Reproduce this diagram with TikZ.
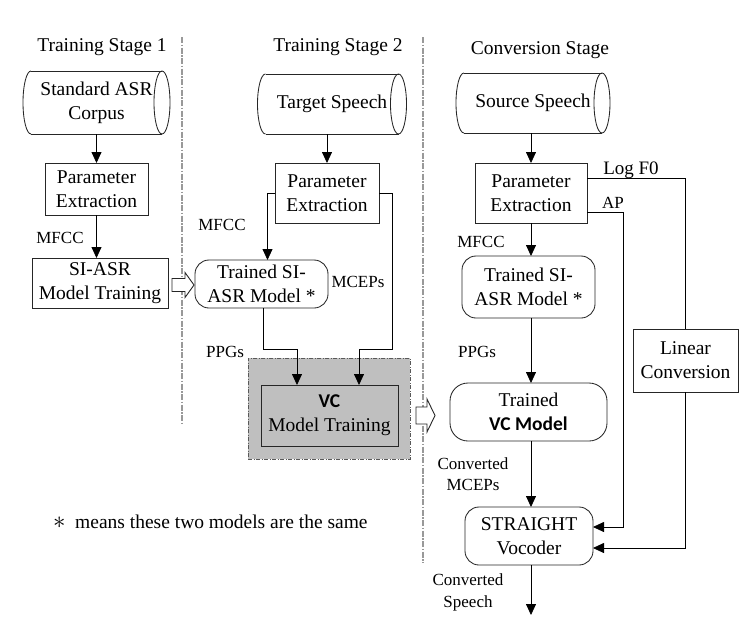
\documentclass[tikz,border=0pt]{standalone}
\usepackage{fontspec}
\setmainfont{Liberation Serif}
\newfontfamily\calfont{Carlito}
\usetikzlibrary{arrows.meta,calc}
\newcommand\cylout[3]{%
  \draw[cylline] (#1.north west) -- (#1.north east) (#1.south west) -- (#1.south east);
  \draw[cylline] (#1.east) ellipse[x radius=#2pt, y radius=#3pt];
  \draw[cylline] (#1.north west) arc[start angle=90, end angle=270, x radius=#2pt, y radius=#3pt];
}
\begin{document}
\begin{tikzpicture}[x=1pt,y=-1pt,
  every node/.style={font=\fontsize{19.5}{24}\selectfont, inner sep=0pt, outer sep=0pt},
  box/.style={draw=black!85, line width=0.85pt, align=center},
  rbox/.style={box, rounded corners=14pt},
  cyl/.style={align=center},
  cylline/.style={draw=black!85, line width=0.85pt},
  lbl/.style={font=\fontsize{17}{21.5}\selectfont, align=center},
  arr/.style={-{Triangle[length=11pt,width=10pt]}, line width=0.8pt},
  conn/.style={line width=0.8pt},
  sepline/.style={draw=black!40, line width=1.8pt, dash pattern=on 6pt off 1.5pt on 1.5pt off 1.5pt},
  hollowarr/.style={draw=black!85, line width=0.9pt, fill=white, line join=miter}
]
\useasboundingbox (0,0) rectangle (756,638);

% separators
\draw[sepline] (182,37) -- (182,425);
\draw[sepline] (423,37) -- (423,563);

% titles
\node (t1) at (102,47) {Training Stage 1};
\node (t2title) at (338,47) {Training Stage 2};
\node (t3title) at (540,50) {Conversion Stage};

% ---------- Stage 1
\node[cyl, minimum width=131pt, minimum height=63pt] (c1) at (96.5,102.5) {Standard ASR\\Corpus};
\cylout{c1}{8}{31.5}
\node[box, minimum width=103pt, minimum height=52pt] (p1) at (96.5,189) {Parameter\\Extraction};
\node[box, minimum width=136pt, minimum height=50pt] (s1) at (100,283) {SI-ASR\\Model Training};
\draw[arr] (c1.south) -- (p1.north);
\draw[arr] (p1.south) -- (p1.south |- s1.north);
\node[lbl] (lm1) at (60,238) {MFCC};

% hollow arrow between stage 1 and 2
\draw[hollowarr] (172,278.5) -- (185,278.5) -- (185,272.5) -- (194,285) -- (185,297.5) -- (185,291.5) -- (172,291.5) -- cycle;

% ---------- Stage 2
\node[cyl, minimum width=133pt, minimum height=60pt] (c2) at (332,104) {Target Speech};
\cylout{c2}{8}{30}
\node[box, minimum width=104pt, minimum height=60pt] (p2) at (327,193) {Parameter\\Extraction};
\node[rbox, minimum width=133pt, minimum height=48pt] (t2) at (261.5,284) {Trained SI-\\ASR Model *};
\node[draw=black!65, fill=black!25, line width=0.9pt, dash pattern=on 4pt off 1.5pt on 1pt off 1.5pt,
      minimum width=162pt, minimum height=101pt] (gb) at (329,408.5) {};
\node[box, fill=black!25, minimum width=137pt, minimum height=61pt] (vc) at (329.5,415.5)
  {{\calfont\bfseries VC}\\Model Training};

\draw[arr] (p2.north |- c2.south) -- (p2.north);
\draw[arr] (p2.west) -| ($(t2.north)+(6,0)$);
\draw[arr] ($(t2.south)+(2,0)$) |- ($(vc.north)+(-32.5,-36)$) -- ($(vc.north)+(-32.5,0)$);
\draw[arr] (p2.east) -- ++(13,0) |- ($(vc.north)+(29.5,-36)$) -- ($(vc.north)+(29.5,0)$);
\node[lbl] (lm2) at (222,225) {MFCC};
\node[lbl] (lmc) at (358,282) {MCEPs};
\node[lbl] (lp2) at (225,352) {PPGs};

% hollow arrow between stage 2 and conversion stage
\draw[hollowarr] (416,407) -- (427,407) -- (427,399) -- (435,415.5) -- (427,432) -- (427,424) -- (416,424) -- cycle;

% ---------- Conversion stage
\node[cyl, minimum width=138pt, minimum height=60pt] (c3) at (533,103) {Source Speech};
\cylout{c3}{8}{30}
\node[box, minimum width=112pt, minimum height=60pt] (p3) at (531,193) {Parameter\\Extraction};
\node[rbox, minimum width=133pt, minimum height=62pt] (t3) at (528.5,287) {Trained SI-\\ASR Model *};
\node[rbox, minimum width=157pt, minimum height=58pt, rounded corners=18pt] (tv) at (528.5,412)
  {Trained\\{\calfont\bfseries VC Model}};
\node[rbox, minimum width=128pt, minimum height=58pt] (v) at (529,536) {STRAIGHT\\Vocoder};
\node[box, minimum width=105pt, minimum height=63pt] (lc) at (685.5,360.5) {Linear\\Conversion};
\coordinate (out) at (531,615);

\draw[arr] (p3.north |- c3.south) -- (p3.north);
\draw[arr] (p3.south) -- (p3.south |- t3.north);
\draw[arr] (p3.south |- t3.south) -- (p3.south |- tv.north);
\draw[arr] (p3.south |- tv.south) -- (p3.south |- v.north);
\draw[arr] (p3.south |- v.south) -- (out);
\draw[conn] ($(p3.east)+(0,-15)$) -| (lc.north);
\draw[arr] (lc.south) |- ($(v.east)+(0,12)$);
\draw[arr] ($(p3.east)+(0,19)$) -| ($(v.east)+(30,-9)$) -- ($(v.east)+(0,-9)$);

\node[lbl] (lm3) at (481,242) {MFCC};
\node[lbl, font=\fontsize{19}{23}\selectfont] (llf) at (631,170) {Log F0};
\node[lbl] (lap) at (613,203) {AP};
\node[lbl] (lp3) at (477,352) {PPGs};
\node[lbl] (lcm) at (473,474) {Converted\\MCEPs};
\node[lbl] (lcs) at (468,592.5) {Converted\\Speech};

% footnote
\node[anchor=west] (note) at (53,522) {{\fontsize{26}{26}\selectfont$\ast$}\ \ means these two models are the same};
\end{tikzpicture}
\end{document}
